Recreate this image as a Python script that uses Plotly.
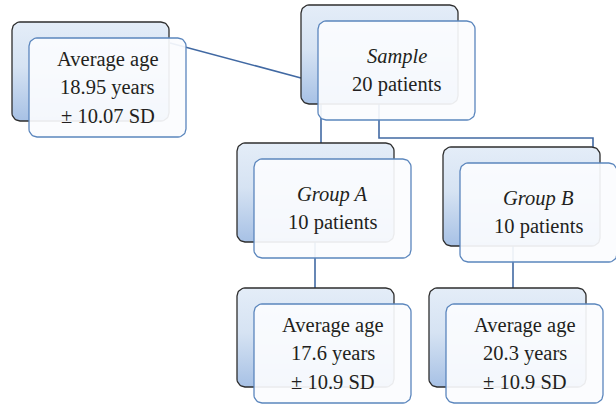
import numpy as np
import plotly.graph_objects as go

# ---------------- data ----------------
sample_label = "Sample"
sample_size = 20
group_labels = ["Group A", "Group B"]
group_sizes = [10, 10]
age_means = [18.95, 17.6, 20.3]   # overall, group A, group B
age_sds = [10.07, 10.9, 10.9]

# ---------------- layout constants ----------------
W, H = 616, 404
BOX_W, BOX_H = 157, 99
DX, DY = 17, 16
R = 8
LINE_H = 28
FONT = "Liberation Serif"
TXT = "#231f20"
BACK_EDGE = "#2e2e2e"
FRONT_EDGE = "#5b86bd"
CONN = "#4169a3"

# top-left corners of the back (shadow) boxes
pos = {
    "age_all": (12, 22),
    "sample": (301, 5),
    "grp_a": (237, 143),
    "grp_b": (443, 147),
    "age_a": (237, 288),
    "age_b": (429, 288),
}

def fmt(v):
    return ("%g" % v)

texts = {
    "age_all": ["Average age", f"{fmt(age_means[0])} years", f"± {age_sds[0]:.2f} SD"],
    "sample": [f"<i>{sample_label}</i>", f"{sample_size} patients"],
    "grp_a": [f"<i>{group_labels[0]}</i>", f"{group_sizes[0]} patients"],
    "grp_b": [f"<i>{group_labels[1]}</i>", f"{group_sizes[1]} patients"],
    "age_a": ["Average age", f"{fmt(age_means[1])} years", f"± {age_sds[1]} SD"],
    "age_b": ["Average age", f"{fmt(age_means[2])} years", f"± {age_sds[2]} SD"],
}


def rrect(x0, y0, w, h, r, n=10):
    xs, ys = [], []
    corners = [
        (x0 + w - r, y0 + r, -90, 0),
        (x0 + w - r, y0 + h - r, 0, 90),
        (x0 + r, y0 + h - r, 90, 180),
        (x0 + r, y0 + r, 180, 270),
    ]
    for cx, cy, a0, a1 in corners:
        for a in np.linspace(np.radians(a0), np.radians(a1), n):
            xs.append(cx + r * np.cos(a))
            ys.append(cy + r * np.sin(a))
    xs.append(xs[0]); ys.append(ys[0])
    return xs, ys


fig = go.Figure()

# ---------------- connectors ----------------
ax, ay = pos["age_all"]; sx, sy = pos["sample"]
ga, gb = pos["grp_a"], pos["grp_b"]
la, lb = pos["age_a"], pos["age_b"]
conns = [
    ([ax + BOX_W + 1, sx], [ay + 21, sy + 73]),
    ([sx + 20, sx + 20], [sy + BOX_H, ga[1]]),
    ([sx + 78, sx + 78, gb[0] + 150, gb[0] + 150], [sy + BOX_H, sy + 133, sy + 133, gb[1]]),
    ([ga[0] + 78, ga[0] + 78], [ga[1] + BOX_H, la[1]]),
    ([gb[0] + 70, gb[0] + 70], [gb[1] + BOX_H, lb[1]]),
]
for xs, ys in conns:
    fig.add_trace(go.Scatter(x=xs, y=ys, mode="lines",
                             line=dict(color=CONN, width=1.6),
                             hoverinfo="skip", showlegend=False, cliponaxis=False))

# ---------------- boxes ----------------
for key, (x0, y0) in pos.items():
    xs, ys = rrect(x0, y0, BOX_W, BOX_H, R)
    fig.add_trace(go.Scatter(
        x=xs, y=ys, mode="lines", fill="toself",
        fillgradient=dict(type="vertical",
                          colorscale=[[0, "#e4edf8"], [0.45, "#d6e3f3"], [1, "#a7c1e5"]],
                          start=y0, stop=y0 + BOX_H),
        line=dict(color=BACK_EDGE, width=1.3),
        hoverinfo="skip", showlegend=False))
    xs, ys = rrect(x0 + DX, y0 + DY, BOX_W, BOX_H, R)
    fig.add_trace(go.Scatter(
        x=xs, y=ys, mode="lines", fill="toself",
        fillcolor="rgba(251,252,254,0.92)",
        line=dict(color=FRONT_EDGE, width=1.3),
        hoverinfo="skip", showlegend=False))

    lines = texts[key]
    cx = x0 + DX + BOX_W / 2
    cy = y0 + DY + BOX_H / 2
    n = len(lines)
    for i, t in enumerate(lines):
        fig.add_annotation(x=cx, y=cy + (i - (n - 1) / 2) * LINE_H, text=t,
                           showarrow=False, xanchor="center", yanchor="middle",
                           font=dict(family=FONT, size=20.5, color=TXT))

fig.update_layout(
    width=W, height=H,
    margin=dict(l=0, r=0, t=0, b=0),
    paper_bgcolor="white", plot_bgcolor="white",
    xaxis=dict(range=[0, W], visible=False, fixedrange=True),
    yaxis=dict(range=[H, 0], visible=False, fixedrange=True),
    showlegend=False,
)

fig.write_html("out.html", config={"displayModeBar": False},
               post_script="document.body.style.margin='0';document.body.style.overflow='hidden';")
